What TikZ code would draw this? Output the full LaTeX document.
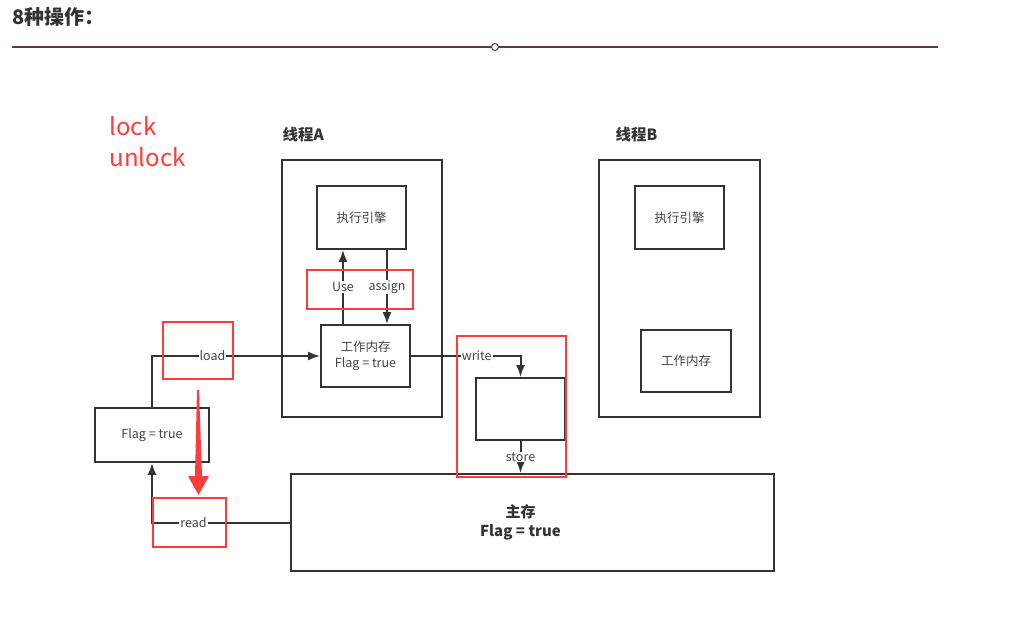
\documentclass[tikz,border=0pt]{standalone}
\usepackage{fontspec}
\setmainfont{Noto Sans CJK SC}
\usepackage{xcolor}
\usetikzlibrary{arrows,arrows.meta}
\usetikzlibrary {positioning}
\definecolor{linegray}{HTML}{333333}
\definecolor{textgray}{HTML}{444444}
\definecolor{hlred}{HTML}{FF3B3B}
\definecolor{rulebrown}{HTML}{5A3C3C}
\tikzset{main node/.style={rectangle,draw=linegray,fill=white,line width=1.8pt,inner sep=0pt,align=center,text=textgray,font=\fontsize{12.5}{16}\selectfont}}
\tikzset{op label/.style={fill=white,inner sep=1pt,text=textgray,font=\fontsize{12.5}{14}\selectfont}}
\tikzset{link/.style={draw=linegray,line width=2pt,-{Latex[length=12pt,width=9pt]}}}
\tikzset{hl box/.style={draw=hlred,line width=2.5pt}}

\begin{document}
\begin{tikzpicture}[x=1pt,y=-1pt]
	\useasboundingbox[fill=white] (0,0) rectangle (1032,642);
	% title and rule
	\node[anchor=west,text=linegray,font=\fontsize{20}{24}\selectfont\bfseries] (title) at (9,17) {8种操作：};
	\draw[rulebrown,line width=1.5pt] (12,47) -- (938,47);
	\draw[rulebrown,line width=1pt,fill=white] (495,47) circle (3.5);
	\node[anchor=west,text=hlred,align=left,font=\fontsize{24}{31}\selectfont] (lockops) at (106,142) {lock\\unlock};

	% threads
	\node[main node,minimum width=160,minimum height=257] (threadA) at (362,288.5) {};
	\node[main node,minimum width=161,minimum height=257] (threadB) at (679.5,288.5) {};
	\node[anchor=west,text=linegray,font=\fontsize{15.5}{18}\selectfont\bfseries] (nameA) at (279,135) {线程A};
	\node[anchor=west,text=linegray,font=\fontsize{15.5}{18}\selectfont\bfseries] (nameB) at (612,135) {线程B};
	\node[main node,minimum width=89,minimum height=63] (engA) at (361.5,217.5) {执行引擎};
	\node[main node,minimum width=89,minimum height=62] (wmA) at (365.5,356) {工作内存\\Flag = true};
	\node[main node,minimum width=89,minimum height=63] (engB) at (679.5,217.5) {执行引擎};
	\node[main node,minimum width=90,minimum height=62] (wmB) at (686,361) {工作内存};

	% memory side
	\node[main node,minimum width=114,minimum height=54] (flag) at (152,435) {Flag = true};
	\node[main node,minimum width=89,minimum height=62] (buffer) at (520.5,409) {};
	\node[main node,minimum width=483,minimum height=97] (mainmem) at (532.5,522.5) {};
	\node[align=center,text=linegray,font=\fontsize{15}{19}\selectfont\bfseries] (mainlabel) at (520.5,522.5) {主存\\Flag = true};

	\coordinate (usex) at (343,0);
	\coordinate (assignx) at (387,0);

	\draw[link] (wmA.north -| usex) -- node[op label,midway] {Use} (engA.south -| usex);
	\draw[link] (engA.south -| assignx) -- node[op label,midway] {assign} (wmA.north -| assignx);
	\draw[link] (buffer.south) -- node[op label,midway] {store} (mainmem.north -| buffer);
	\draw[link] (flag.north) |- node[op label,pos=0.68] {load} (wmA.west);
	\draw[link] (mainmem.west) -| node[op label,pos=0.35] {read} (flag.south);
	\draw[link] (wmA.east) -| node[op label,pos=0.3] {write} (buffer.north);

	% highlights
	\draw[hl box] (307,270) rectangle (413,309);
	\draw[hl box] (163,322) rectangle (233,379);
	\draw[hl box] (153,498) rectangle (226,547);
	\draw[hl box] (457,336) rectangle (566,477);
	\fill[hlred] (197,390) -- (199,390) -- (202,476) -- (209,476) -- (198.5,495) -- (188,476) -- (195,476) -- cycle;
\end{tikzpicture}
\end{document}
